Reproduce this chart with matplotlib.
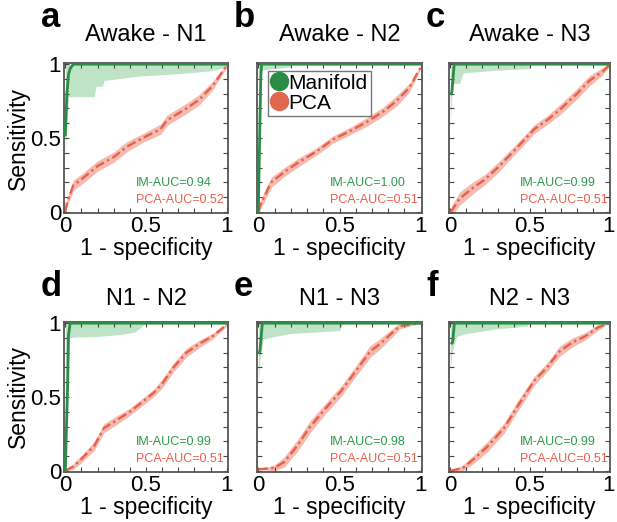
import matplotlib

matplotlib.use("Agg")
import matplotlib.pyplot as plt
from matplotlib.lines import Line2D
from matplotlib.ticker import MultipleLocator

plt.rcParams["font.family"] = ["Liberation Sans", "DejaVu Sans"]

GREEN = "#2b8c46"
GREEN_BAND = "#a9dab4"
RED = "#e8604a"
RED_BAND = "#f4aea2"

letters = ["a", "b", "c", "d", "e", "f"]
titles = ["Awake - N1", "Awake - N2", "Awake - N3", "N1 - N2", "N1 - N3", "N2 - N3"]
im_auc = ["0.94", "1.00", "0.99", "0.99", "0.98", "0.99"]
pca_auc = ["0.52", "0.51", "0.51", "0.51", "0.51", "0.51"]

# manifold mean ROC curves
im_x = [
    [0.0, 0.01, 0.02, 0.03, 0.05, 1.0],
    [0.0, 0.015, 0.02, 1.0],
    [0.005, 0.01, 0.025, 1.0],
    [0.0, 0.015, 0.02, 0.03, 1.0],
    [0.005, 0.01, 0.025, 1.0],
    [0.01, 0.015, 0.026, 1.0],
]
im_y = [
    [0.52, 0.8, 0.93, 0.97, 1.0, 1.0],
    [0.0, 0.9, 1.0, 1.0],
    [0.8, 0.81, 1.0, 1.0],
    [0.0, 0.6, 0.92, 1.0, 1.0],
    [0.8, 0.81, 1.0, 1.0],
    [0.865, 0.87, 1.0, 1.0],
]
# manifold band (lower edge, upper edge is 1)
im_band_x = [
    [0.0, 0.01, 0.02, 0.18, 0.19, 0.23, 0.24, 0.46, 0.7, 0.9, 1.0],
    [0.0, 0.02, 0.1, 0.2, 0.21],
    [0.0, 0.01, 0.02, 0.06, 0.08, 0.3, 0.5, 0.505],
    [0.0, 0.02, 0.05, 0.2, 0.35, 0.43, 0.49, 0.5],
    [0.0, 0.01, 0.03, 0.1, 0.2, 0.35, 0.5, 0.52],
    [0.0, 0.01, 0.04, 0.1, 0.28, 0.48, 0.5],
]
im_band_lo = [
    [0.38, 0.6, 0.78, 0.78, 0.85, 0.85, 0.89, 0.92, 0.935, 0.955, 0.98],
    [0.9, 0.96, 0.97, 0.98, 1.0],
    [0.6, 0.78, 0.87, 0.87, 0.94, 0.96, 0.97, 1.0],
    [0.0, 0.9, 0.905, 0.91, 0.925, 0.94, 0.99, 1.0],
    [0.58, 0.75, 0.89, 0.91, 0.93, 0.94, 0.95, 1.0],
    [0.67, 0.8, 0.91, 0.93, 0.96, 0.98, 1.0],
]

# PCA mean ROC curves
pca_x = [
    [0.0, 0.01, 0.05, 0.1, 0.2, 0.3, 0.38, 0.48, 0.59, 0.63, 0.75, 0.83, 0.91, 1.0],
    [0.0, 0.01, 0.04, 0.08, 0.16, 0.24, 0.36, 0.46, 0.57, 0.67, 0.77, 0.85, 0.93, 1.0],
    [0.0, 0.01, 0.06, 0.14, 0.22, 0.31, 0.39, 0.47, 0.53, 0.61, 0.69, 0.8, 0.88, 0.96, 1.0],
    [0.0, 0.05, 0.1, 0.18, 0.24, 0.3, 0.4, 0.47, 0.55, 0.6, 0.67, 0.75, 0.83, 0.91, 1.0],
    [0.0, 0.1, 0.16, 0.24, 0.32, 0.42, 0.51, 0.59, 0.69, 0.75, 0.81, 0.87, 0.93, 1.0],
    [0.0, 0.08, 0.16, 0.24, 0.34, 0.42, 0.53, 0.61, 0.69, 0.77, 0.85, 0.93, 1.0],
]
pca_y = [
    [0.0, 0.06, 0.18, 0.22, 0.31, 0.37, 0.44, 0.5, 0.56, 0.62, 0.7, 0.76, 0.85, 0.99],
    [0.0, 0.04, 0.11, 0.2, 0.27, 0.33, 0.41, 0.49, 0.55, 0.61, 0.68, 0.75, 0.84, 0.98],
    [0.0, 0.01, 0.09, 0.16, 0.22, 0.31, 0.4, 0.49, 0.56, 0.62, 0.69, 0.8, 0.89, 0.95, 0.99],
    [0.0, 0.03, 0.08, 0.17, 0.29, 0.33, 0.4, 0.46, 0.53, 0.59, 0.7, 0.8, 0.86, 0.91, 0.99],
    [0.01, 0.02, 0.06, 0.17, 0.3, 0.43, 0.54, 0.66, 0.81, 0.86, 0.92, 0.98, 0.99, 1.0],
    [0.0, 0.02, 0.09, 0.17, 0.29, 0.43, 0.61, 0.7, 0.81, 0.87, 0.91, 0.97, 1.0],
]
pca_err = [
    [0.0, 0.03, 0.035, 0.035, 0.035, 0.035, 0.035, 0.03, 0.035, 0.035, 0.035, 0.035, 0.03, 0.01],
    [0.0, 0.03, 0.035, 0.035, 0.03, 0.03, 0.025, 0.025, 0.025, 0.03, 0.03, 0.035, 0.03, 0.01],
    [0.0, 0.035, 0.045, 0.04, 0.035, 0.035, 0.03, 0.03, 0.03, 0.03, 0.035, 0.035, 0.035, 0.025, 0.01],
    [0.0, 0.02, 0.025, 0.03, 0.03, 0.03, 0.025, 0.025, 0.025, 0.03, 0.03, 0.03, 0.025, 0.02, 0.01],
    [0.0, 0.02, 0.035, 0.04, 0.04, 0.035, 0.035, 0.035, 0.04, 0.035, 0.03, 0.02, 0.01, 0.0],
    [0.0, 0.02, 0.03, 0.035, 0.035, 0.035, 0.03, 0.03, 0.035, 0.03, 0.025, 0.02, 0.0],
]

W, H = 617, 522
col_left = [64, 257, 449]
col_width = [164, 165, 161]
row_top = [63, 322]
ax_h = 150

fig = plt.figure(figsize=(W / 100, H / 100), dpi=100)

for i in range(6):
    row, col = divmod(i, 3)
    left = col_left[col] / W
    bottom = (H - row_top[row] - ax_h) / H
    ax = fig.add_axes([left, bottom, col_width[col] / W, ax_h / H])

    ax.fill_between(im_band_x[i], im_band_lo[i], 1.0, color=GREEN_BAND,
                    alpha=0.75, linewidth=0, zorder=1)
    lo = [y - e for y, e in zip(pca_y[i], pca_err[i])]
    hi = [y + e for y, e in zip(pca_y[i], pca_err[i])]
    ax.fill_between(pca_x[i], lo, hi, color=RED_BAND, alpha=0.85,
                    linewidth=0, zorder=1)
    ax.plot(pca_x[i], pca_y[i], color=RED, linestyle=(0, (4, 1.5, 1, 1.5)),
            linewidth=1.7, zorder=2)
    ax.plot(im_x[i], im_y[i], color=GREEN, linewidth=2.0, zorder=3)

    ax.set_xlim(-0.008, 1.008)
    ax.set_ylim(-0.008, 1.008)
    ax.set_xticks([0, 0.5, 1])
    ax.set_xticklabels(["0", "0.5", "1"])
    ax.set_yticks([0, 0.5, 1])
    ax.xaxis.set_minor_locator(MultipleLocator(0.1))
    ax.yaxis.set_minor_locator(MultipleLocator(0.1))
    ax.tick_params(which="both", direction="in", top=True, right=True,
                   length=3.5, width=0.8, color="#444444")
    ax.tick_params(which="major", labelsize=16, pad=2)
    for sp in ax.spines.values():
        sp.set_color("#555555")
        sp.set_linewidth(1.3)

    if col == 0:
        ax.set_yticklabels(["0", "0.5", "1"])
        ax.set_ylabel("Sensitivity", fontsize=16.5, labelpad=0)
    else:
        ax.set_yticklabels([])
    ax.set_xlabel("1 - specificity", fontsize=16.5, labelpad=0)

    ax.set_title(titles[i], fontsize=17, pad=16 if row == 0 else 12)

    ax.text(0.44, 0.2, f"IM-AUC={im_auc[i]}", color="#2e9a4c", fontsize=9,
            transform=ax.transAxes, va="center", ha="left")
    ax.text(0.44, 0.085, f"PCA-AUC={pca_auc[i]}", color=RED, fontsize=9,
            transform=ax.transAxes, va="center", ha="left")

    if i == 1:
        handles = [
            Line2D([], [], marker="o", linestyle="none", markersize=13,
                   markerfacecolor=GREEN, markeredgecolor=GREEN),
            Line2D([], [], marker="o", linestyle="none", markersize=13,
                   markerfacecolor="#e2674f", markeredgecolor="#e2674f"),
        ]
        leg = ax.legend(handles, ["Manifold", "PCA"], loc="upper left",
                        bbox_to_anchor=(0.065, 0.95), fontsize=15, frameon=True,
                        fancybox=False, handlelength=0.8, handletextpad=0.05,
                        borderpad=0.15, labelspacing=0.05, borderaxespad=0)
        leg.get_frame().set_edgecolor("#555555")
        leg.get_frame().set_linewidth(1.0)

    lx = col_left[col] - 23
    ly = row_top[row] - 36 if row == 0 else row_top[row] - 26
    fig.text(lx / W, 1 - ly / H, letters[i], fontsize=25, fontweight="bold",
             va="baseline", ha="left")

fig.savefig("out.png", dpi=100)
